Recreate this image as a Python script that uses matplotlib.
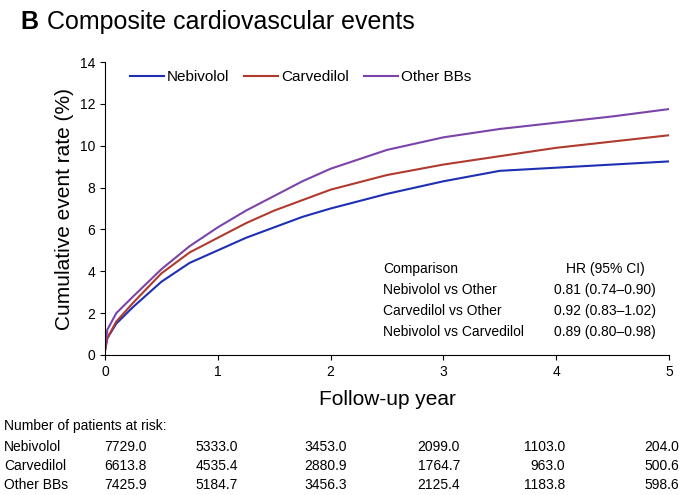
import matplotlib
matplotlib.use("Agg")
import matplotlib.pyplot as plt

plt.rcParams['font.family'] = ['Liberation Sans', 'DejaVu Sans']

years = [0, 0.02, 0.1, 0.25, 0.5, 0.75, 1, 1.25, 1.5, 1.75, 2, 2.5, 3, 3.5, 4, 4.5, 5]
nebivolol = [0.2, 0.8, 1.5, 2.3, 3.5, 4.4, 5.0, 5.6, 6.1, 6.6, 7.0, 7.7, 8.3, 8.8, 8.95, 9.1, 9.25]
carvedilol = [0.2, 0.8, 1.6, 2.5, 3.9, 4.9, 5.6, 6.3, 6.9, 7.4, 7.9, 8.6, 9.1, 9.5, 9.9, 10.2, 10.5]
other = [0.3, 1.2, 2.0, 2.8, 4.1, 5.2, 6.1, 6.9, 7.6, 8.3, 8.9, 9.8, 10.4, 10.8, 11.1, 11.4, 11.75]
colors = ['#1f2fb4', '#b03a2e', '#7b44a8']
names = ['Nebivolol', 'Carvedilol', 'Other BBs']

risk_years = [0, 1, 2, 3, 4, 5]
risk = {
    'Nebivolol': ['7729.0', '5333.0', '3453.0', '2099.0', '1103.0', '204.0'],
    'Carvedilol': ['6613.8', '4535.4', '2880.9', '1764.7', '963.0', '500.6'],
    'Other BBs': ['7425.9', '5184.7', '3456.3', '2125.4', '1183.8', '598.6'],
}
hr_rows = [('Nebivolol vs Other', '0.81 (0.74\u20130.90)'),
           ('Carvedilol vs Other', '0.92 (0.83\u20131.02)'),
           ('Nebivolol vs Carvedilol', '0.89 (0.80\u20130.98)')]

fig = plt.figure(figsize=(6.8, 4.95), dpi=100)
ax = fig.add_axes([105/680, 1-355/495, 564/680, 293/495])
for y, c, n in zip([nebivolol, carvedilol, other], colors, names):
    ax.plot(years, y, color=c, lw=1.5, label=n)
ax.set_xlim(0, 5)
ax.set_ylim(0, 14)
ax.set_yticks(range(0, 15, 2))
ax.tick_params(labelsize=10)
for s in ['top', 'right']:
    ax.spines[s].set_visible(False)
ax.set_ylabel('Cumulative event rate (%)', fontsize=15)
ax.set_xlabel('Follow-up year', fontsize=15, labelpad=8)
ax.legend(loc='upper left', bbox_to_anchor=(0.02, 1.02), ncol=3, frameon=False,
          fontsize=11, handlelength=2.2, columnspacing=1.0, handletextpad=0.2)

fig.text(20/680, 1-22/495, 'B', fontsize=18, fontweight='bold', va='center')
fig.text(47/680, 1-22/495, 'Composite cardiovascular events', fontsize=18, va='center')

fig.text(383/680, 1-269/495, 'Comparison', fontsize=10, va='center')
fig.text(605/680, 1-269/495, 'HR (95% CI)', fontsize=10, va='center', ha='center')
for i, (a, b) in enumerate(hr_rows):
    yy = 1-(290+21*i)/495
    fig.text(383/680, yy, a, fontsize=10, va='center')
    fig.text(605/680, yy, b, fontsize=10, va='center', ha='center')

col_right = [147, 238, 347, 460, 565, 679]
fig.text(4/680, 1-426/495, 'Number of patients at risk:', fontsize=10, va='center')
for i, n in enumerate(names):
    yy = 1-(447+19*i)/495
    fig.text(4/680, yy, n, fontsize=10, va='center')
    for xp, v in zip(col_right, risk[n]):
        fig.text(xp/680, yy, v, fontsize=10, va='center', ha='right')

fig.savefig('out.png', dpi=100)
